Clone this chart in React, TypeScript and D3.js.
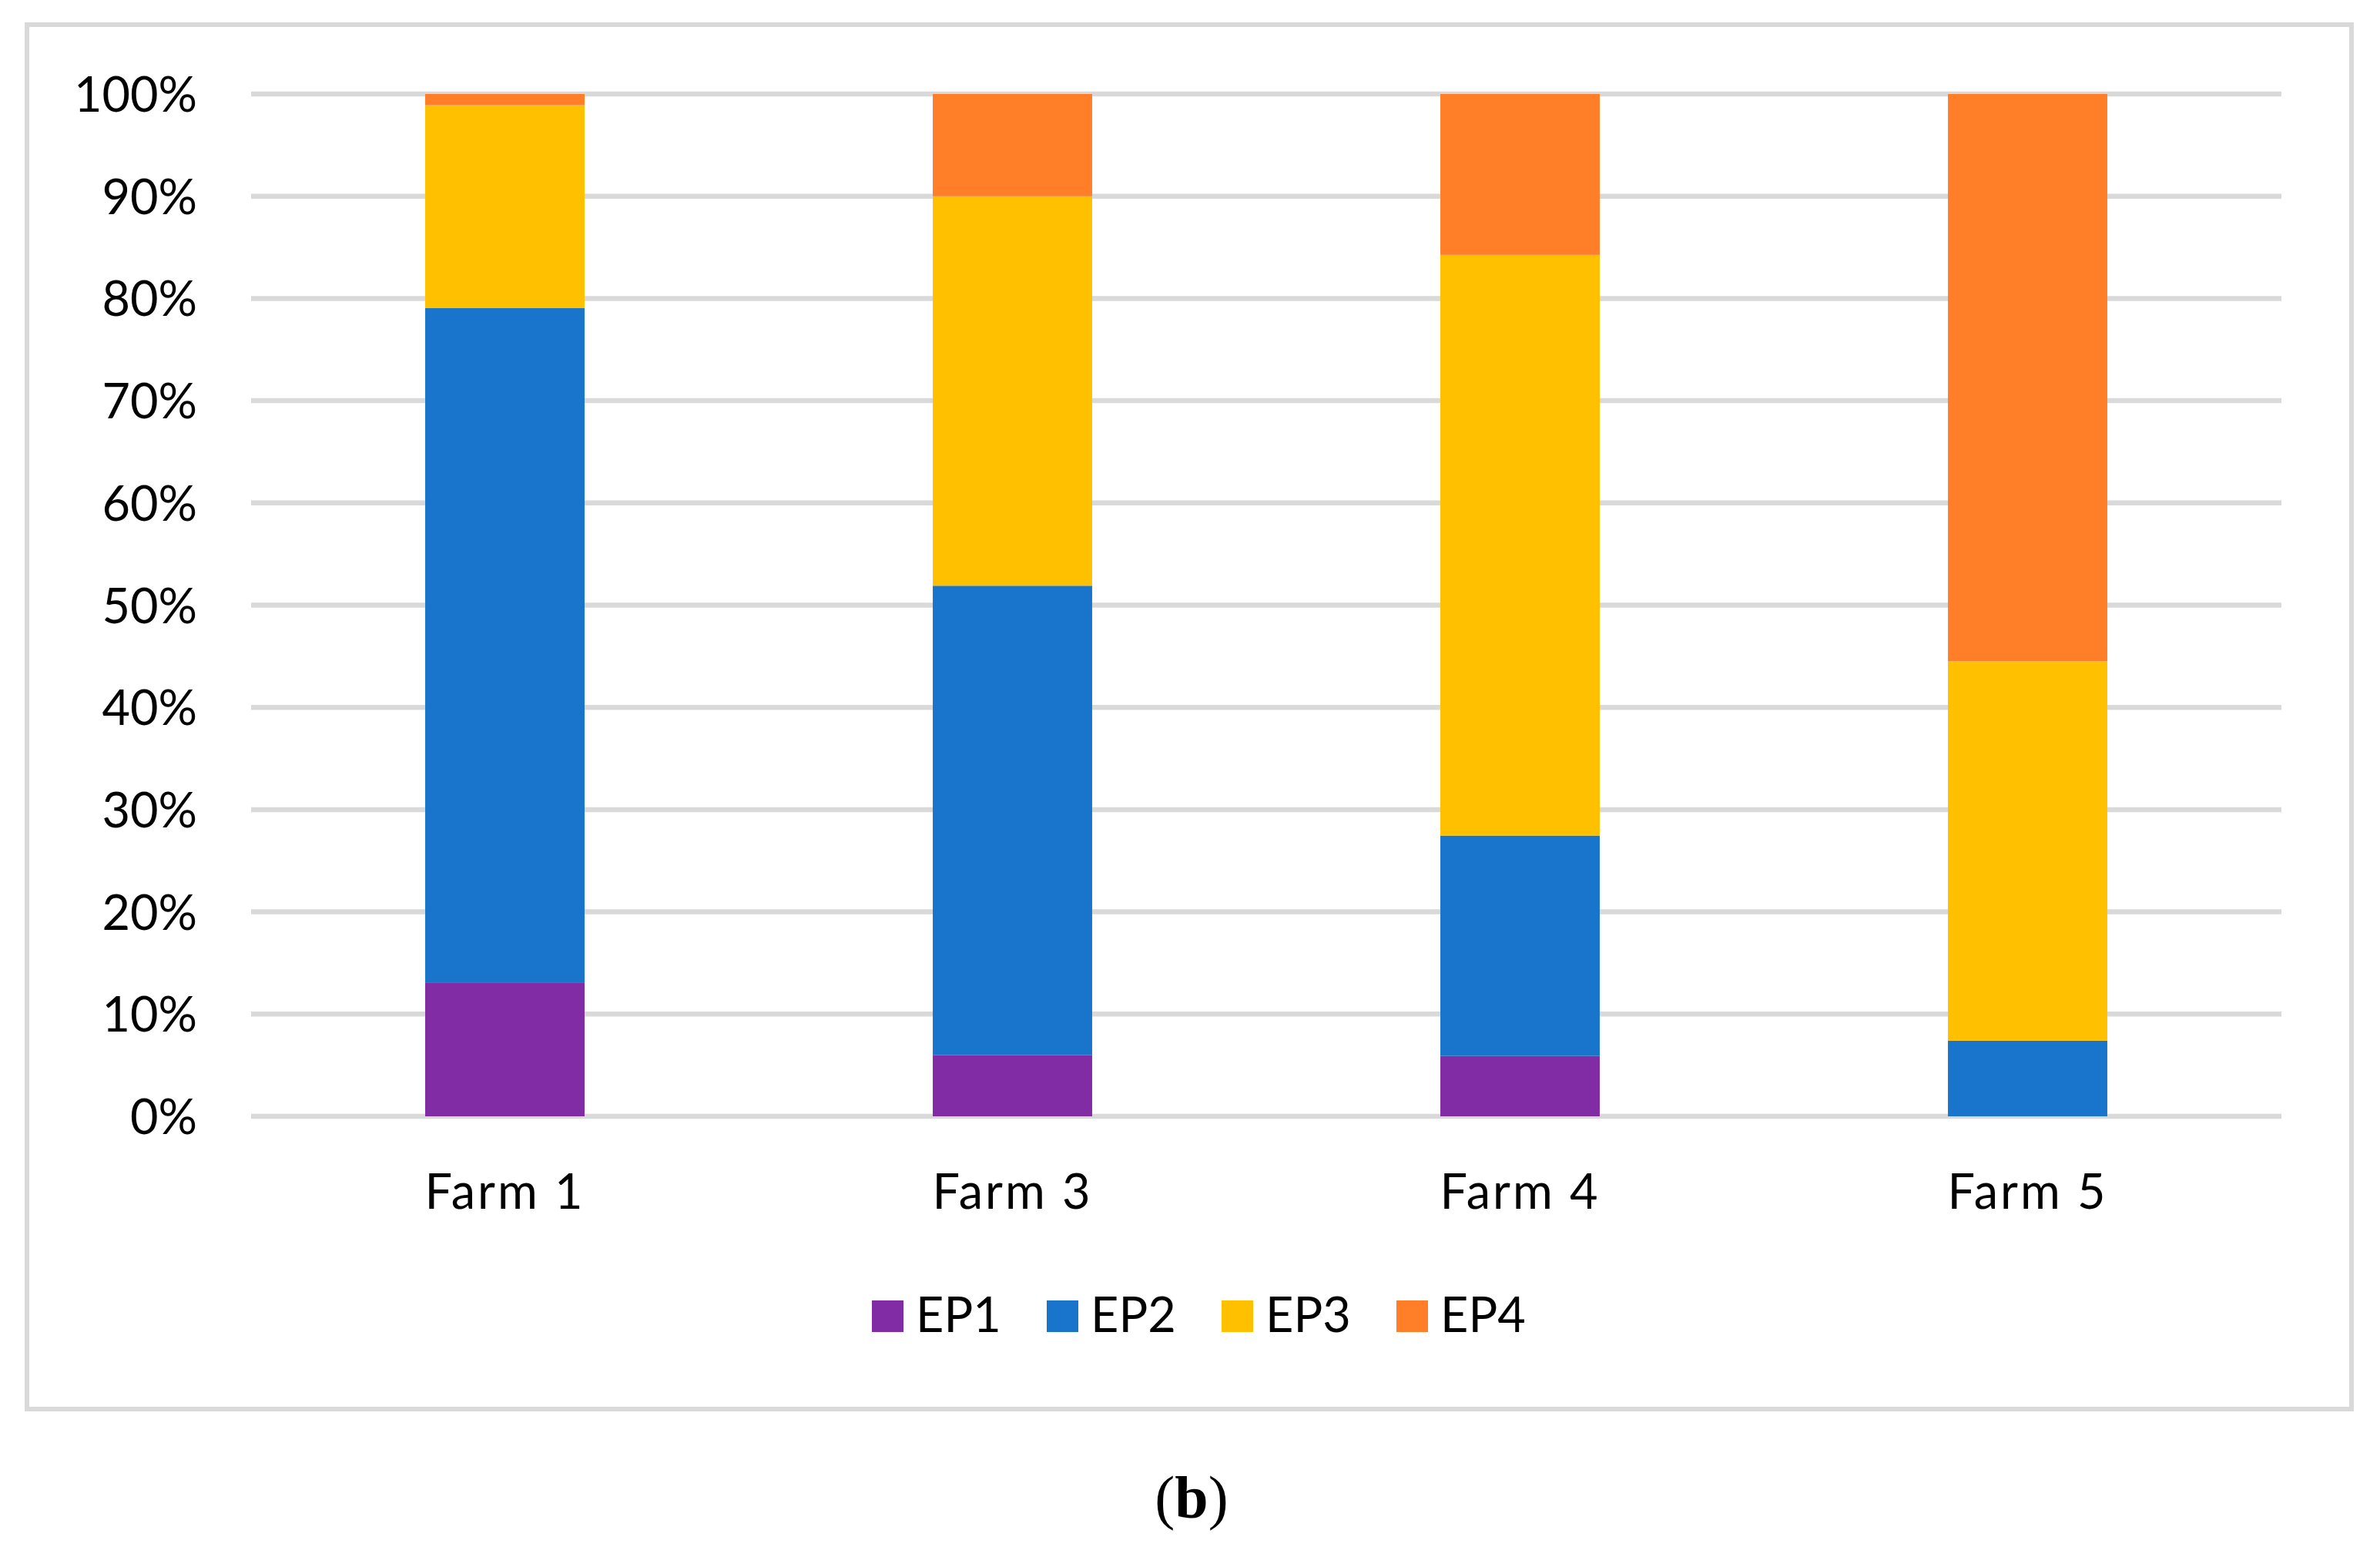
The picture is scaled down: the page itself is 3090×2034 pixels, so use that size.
import React from 'react';
import * as d3 from 'd3';

// values (percent of each farm)
const farms = ['Farm 1', 'Farm 3', 'Farm 4', 'Farm 5'];
const seriesNames = ['EP1', 'EP2', 'EP3', 'EP4'];
const ep1 = [13.1, 6.0, 5.9, 0];
const ep2 = [65.95, 45.9, 21.56, 7.4];
const ep3 = [19.85, 38.1, 56.8, 37.1];
const ep4 = [1.1, 10.0, 15.74, 55.5];
const seriesColors = ['#812ca4', '#1875cb', '#ffc000', '#ff7e27'];
const yTicks = [0, 10, 20, 30, 40, 50, 60, 70, 80, 90, 100];

const W = 3090;
const H = 2034;
const plot = { left: 326, right: 2962, top: 122, bottom: 1449 };
const font = 'Lato, "Open Sans", "Noto Sans", sans-serif';

export default function App() {
  const values = [ep1, ep2, ep3, ep4];
  const rows = farms.map((farm, i) => {
    const row: any = { farm };
    seriesNames.forEach((s, k) => (row[s] = values[k][i]));
    return row;
  });
  const stacked = d3.stack<any>().keys(seriesNames)(rows);

  const x = d3.scaleBand<string>().domain(farms).range([plot.left, plot.right]).paddingInner(0.686).paddingOuter(0.343);
  const y = d3.scaleLinear().domain([0, 100]).range([plot.bottom, plot.top]);

  const legendX = 1132;
  const legendStep = 227;

  return (
    <div style={{ position: 'absolute', left: 0, top: 0 }}>
      <svg width={W} height={H} viewBox={`0 0 ${W} ${H}`} style={{ display: 'block', background: '#fff' }}>
        <rect x={0} y={0} width={W} height={H} fill="#fff" />
        {/* chart frame */}
        <rect x={35} y={32} width={3018} height={1797} fill="#fff" stroke="#d9d9d9" strokeWidth={6} />

        {/* gridlines */}
        {yTicks.map((t) => (
          <line key={t} x1={plot.left} x2={plot.right} y1={y(t)} y2={y(t)} stroke="#d9d9d9" strokeWidth={6.5} />
        ))}

        {/* y tick labels */}
        {yTicks.map((t) => (
          <text key={'l' + t} x={256} y={y(t) + 23} textAnchor="end" fontFamily={font} fontSize={63} fill="#000">
            {t}%
          </text>
        ))}

        {/* stacked bars */}
        {stacked.map((layer, k) => (
          <g key={layer.key} fill={seriesColors[k]}>
            {layer.map((d, i) => {
              const h = y(d[0]) - y(d[1]);
              if (h <= 0) return null;
              return <rect key={i} x={x(farms[i])} y={y(d[1])} width={x.bandwidth()} height={h} />;
            })}
          </g>
        ))}

        {/* x labels */}
        {farms.map((f) => (
          <text key={f} x={(x(f) as number) + x.bandwidth() / 2} y={1569} textAnchor="middle" fontFamily={font} fontSize={63} letterSpacing={3} fill="#000">
            {f}
          </text>
        ))}

        {/* legend */}
        {seriesNames.map((s, k) => (
          <g key={s} transform={`translate(${legendX + k * legendStep},0)`}>
            <rect x={0} y={1688} width={41} height={41} fill={seriesColors[k]} />
            <text x={57} y={1729} fontFamily={font} fontSize={63} fill="#000">
              {s}
            </text>
          </g>
        ))}

        {/* panel caption */}
        <text x={1547} y={1970} textAnchor="middle" fontFamily='"Liberation Serif", "Times New Roman", serif' fontSize={78} fill="#000">
          (<tspan fontWeight="bold">b</tspan>)
        </text>
      </svg>
    </div>
  );
}
